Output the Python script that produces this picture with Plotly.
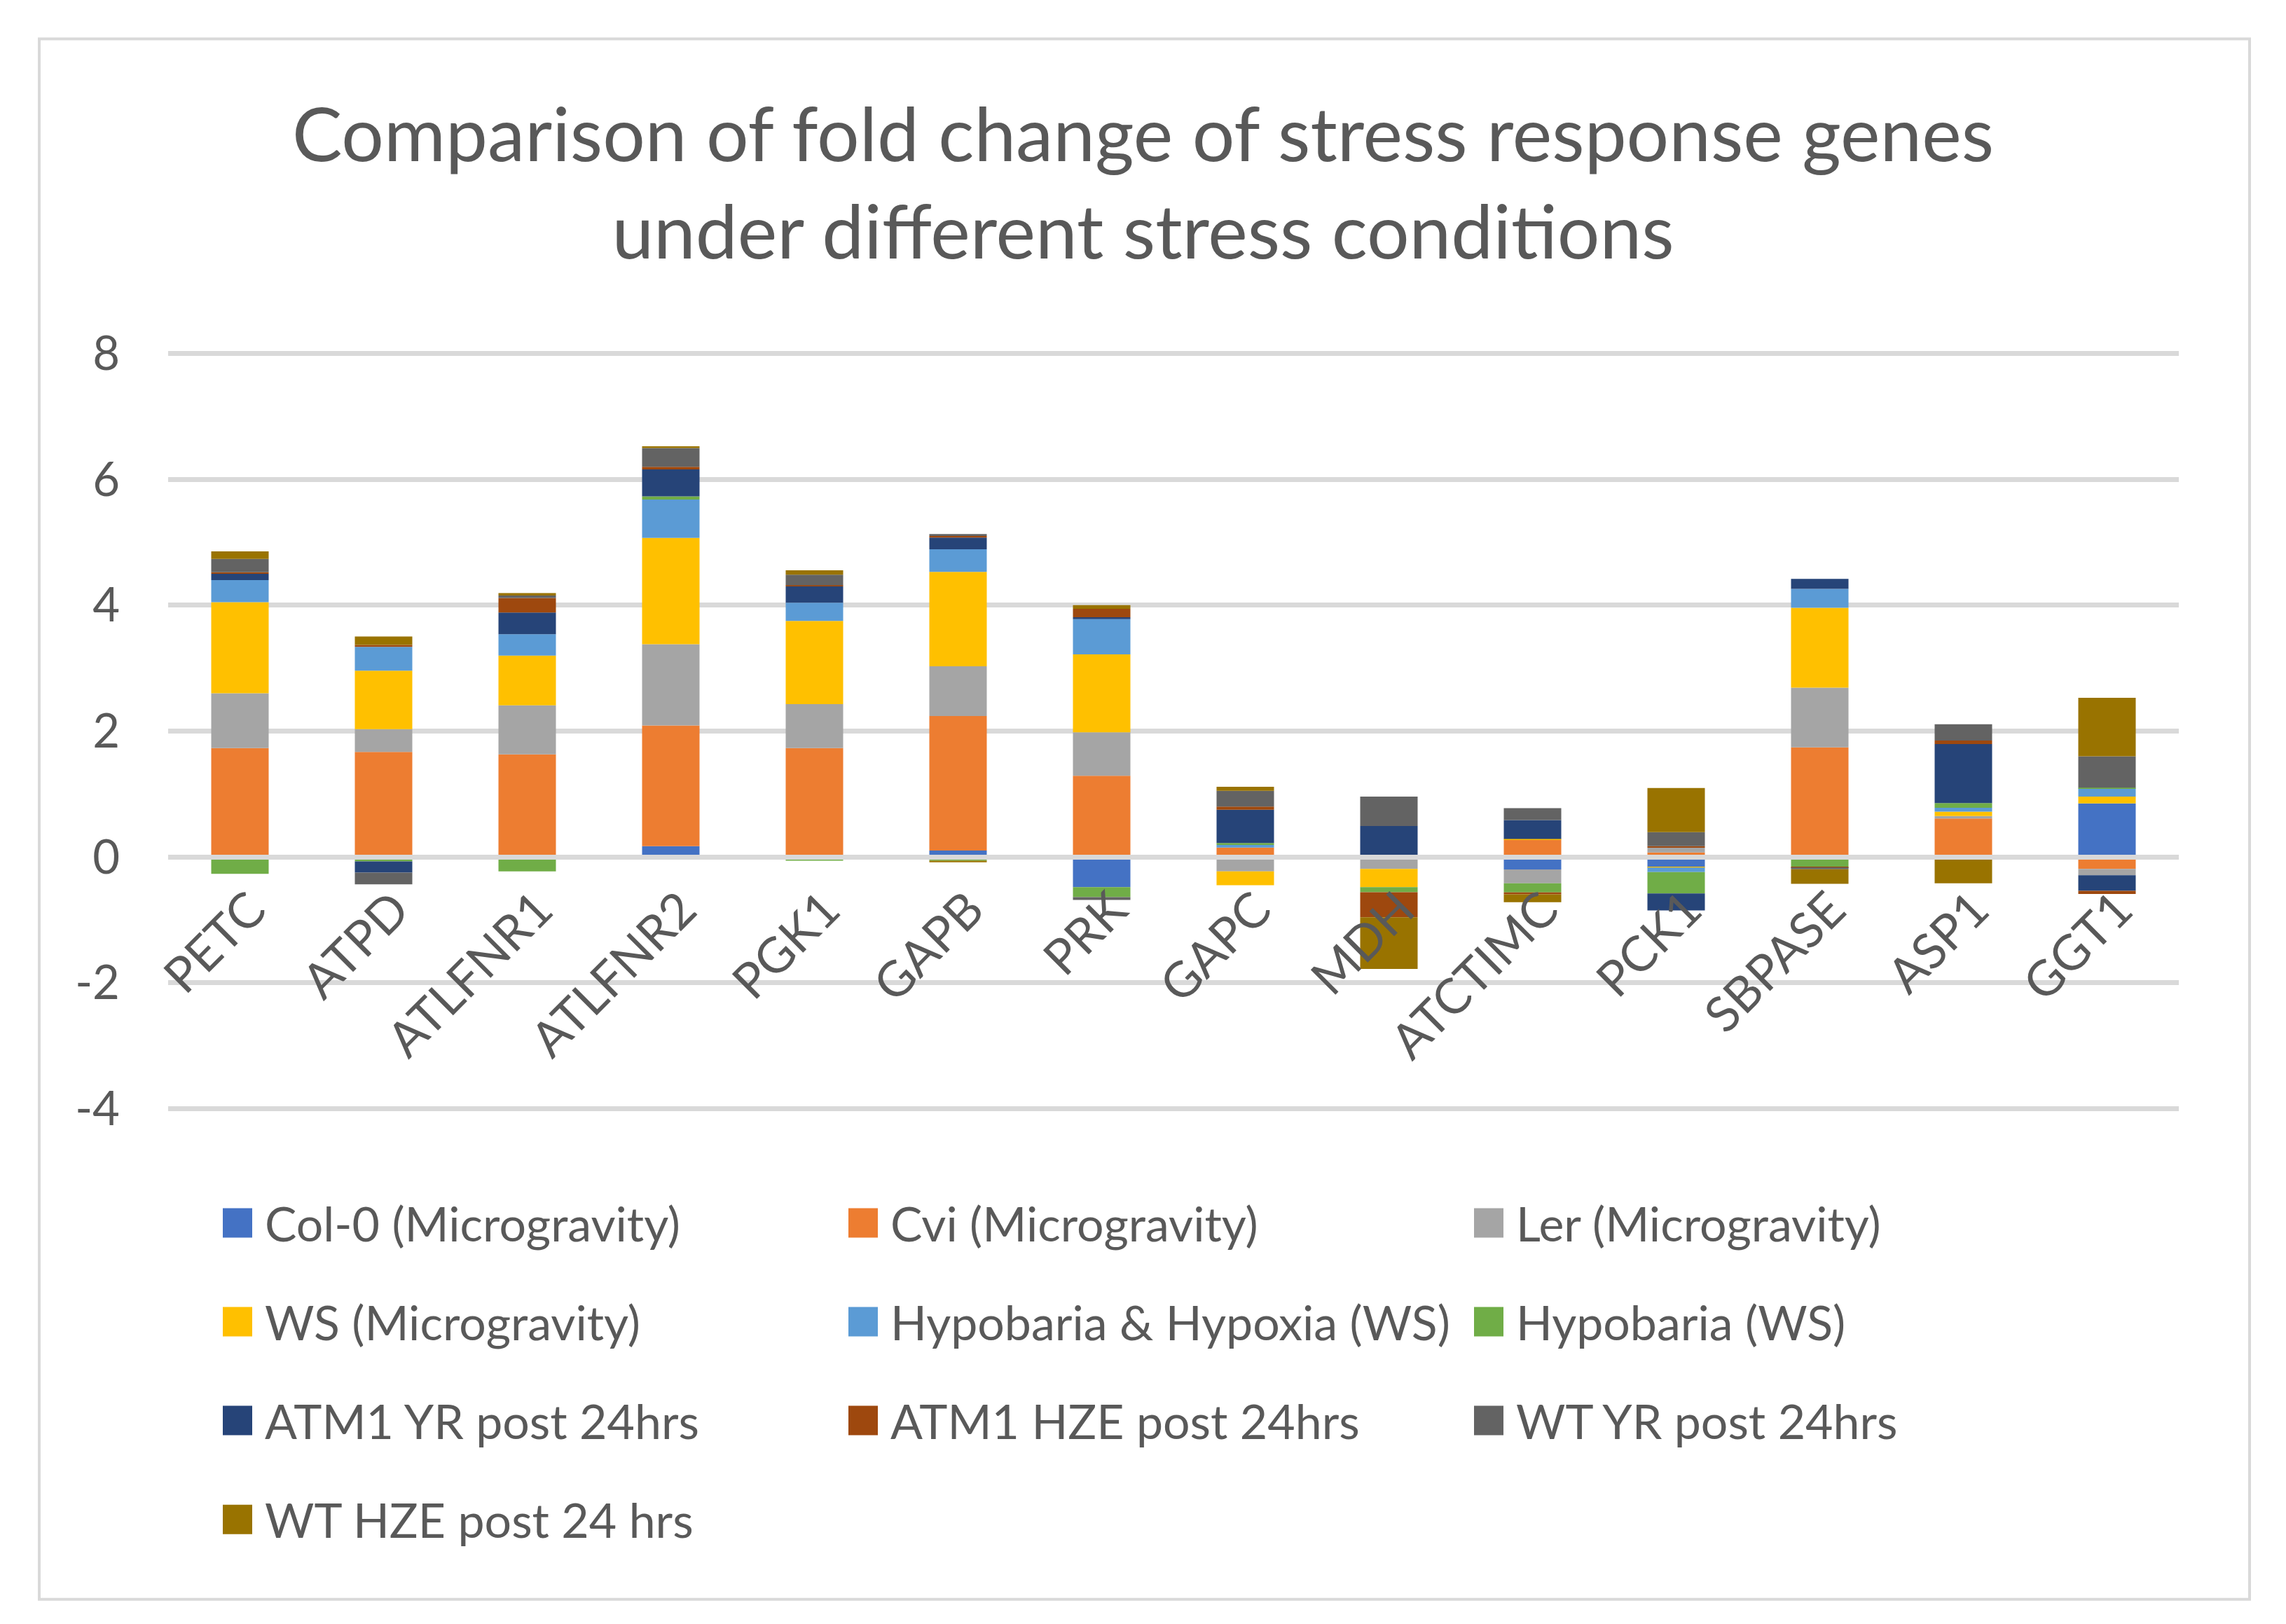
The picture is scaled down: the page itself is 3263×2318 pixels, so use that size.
import plotly.graph_objects as go

genes = ["PETC", "ATPD", "ATLFNR1", "ATLFNR2", "PGK1", "GAPB", "PRK", "GAPC",
         "MDH", "ATCTIMC", "PCK1", "SBPASE", "ASP1", "GGT1"]

series_names = ["Col-0 (Microgravity)", "Cvi (Microgravity)", "Ler (Microgravity)",
                "WS (Microgravity)", "Hypobaria & Hypoxia (WS)", "Hypobaria (WS)",
                "ATM1 YR post 24hrs", "ATM1 HZE post 24hrs", "WT YR post 24hrs",
                "WT HZE post 24 hrs"]

col0 = [0, 0, 0, 0.17, 0, 0.10, -0.48, 0, 0, -0.20, -0.16, 0, 0, 0.85]
cvi = [1.73, 1.67, 1.63, 1.92, 1.73, 2.14, 1.29, 0.15, 0, 0.27, 0.07, 1.74, 0.61, -0.19]
ler = [0.87, 0.36, 0.78, 1.29, 0.70, 0.79, 0.69, -0.23, -0.19, -0.22, 0.08, 0.95, 0.04, -0.10]
ws = [1.45, 0.93, 0.79, 1.69, 1.32, 1.50, 1.24, -0.22, -0.29, 0.015, -0.01, 1.27, 0.07, 0.11]
hypo_hypoxia = [0.35, 0.38, 0.34, 0.61, 0.29, 0.36, 0.56, 0.04, 0, 0, -0.07, 0.30, 0.06, 0.13]
hypobaria = [-0.27, -0.07, -0.23, 0.05, -0.06, -0.06, -0.16, 0.03, -0.08, -0.145, -0.34, -0.16, 0.075, 0.01]
atm1_yr = [0.10, -0.18, 0.345, 0.43, 0.26, 0.185, 0.03, 0.53, 0.49, 0.30, -0.27, 0.16, 0.94, -0.25]
atm1_hze = [0.026, 0.03, 0.23, 0.04, 0.02, 0.026, 0.134, 0.05, -0.40, -0.03, 0.02, -0.015, 0.056, -0.05]
wt_yr = [0.21, -0.185, 0.04, 0.30, 0.166, 0.03, -0.045, 0.25, 0.47, 0.19, 0.224, -0.022, 0.257, 0.50]
wt_hze = [0.12, 0.134, 0.04, 0.026, 0.07, -0.026, 0.058, 0.064, -0.82, -0.125, 0.70, -0.23, -0.42, 0.93]

series_values = [col0, cvi, ler, ws, hypo_hypoxia, hypobaria, atm1_yr, atm1_hze, wt_yr, wt_hze]
colors = ["#4472C4", "#ED7D31", "#A5A5A5", "#FFC000", "#5B9BD5", "#70AD47",
          "#264478", "#9E480E", "#636363", "#997300"]

y_ticks = [-4, -2, 0, 2, 4, 6, 8]
y_tick_labels = ["-4", "-2", "0", "2", "4", "6", "8"]
title_text = "Comparison of fold change of stress response genes<br>under different stress conditions"

FONT = "Lato"
TXT = "#595959"
W, H = 3263, 2318
Y_LO, Y_HI = -4.03, 8.03
PIX_TOP_GRID, PIX_BOT_GRID = 505, 1582          # pixel rows of the 8 and -4 gridlines
UNIT = (PIX_BOT_GRID - PIX_TOP_GRID) / 12.0
L, R = 240, 3110
T = PIX_TOP_GRID - (Y_HI - 8) * UNIT
B = PIX_BOT_GRID + (-4 - Y_LO) * UNIT
PW, PH = R - L, B - T


def px(x):
    return (x - L) / PW


def py(y):
    return (B - y) / PH


fig = go.Figure()
for name, vals, c in zip(series_names, series_values, colors):
    fig.add_trace(go.Bar(x=genes, y=vals, name=name, marker=dict(color=c, line=dict(width=0)),
                         showlegend=False))

# manual legend (large square keys like the original)
shapes = []
annotations = []
col_x = [318, 1211, 2104]
row_y = [1745, 1886, 2027, 2168]
sq = 42
for i, (name, c) in enumerate(zip(series_names, colors)):
    cx = col_x[i % 3]
    cy = row_y[i // 3]
    shapes.append(dict(type="rect", xref="paper", yref="paper",
                       x0=px(cx), x1=px(cx + sq), y0=py(cy + sq / 2), y1=py(cy - sq / 2),
                       fillcolor=c, line=dict(width=0)))
    annotations.append(dict(text=name, xref="paper", yref="paper", x=px(cx + sq + 16), y=py(cy),
                            xanchor="left", yanchor="middle", showarrow=False,
                            font=dict(family=FONT, size=68, color=TXT)))

# outer chart border
shapes.append(dict(type="rect", xref="paper", yref="paper", layer="below",
                   x0=px(56), x1=px(3211), y0=py(2282), y1=py(56),
                   line=dict(color="#D9D9D9", width=4), fillcolor="rgba(0,0,0,0)"))

fig.update_layout(
    width=W, height=H, autosize=False,
    margin=dict(l=L, r=W - R, t=T, b=H - B),
    paper_bgcolor="white", plot_bgcolor="white",
    barmode="relative", bargap=0.6,
    title=dict(text=title_text, x=0.5, xanchor="center", y=1 - 230 / H, yanchor="middle",
               font=dict(family=FONT, size=107, color=TXT)),
    shapes=shapes, annotations=annotations,
    font=dict(family=FONT, color=TXT),
)
fig.update_yaxes(range=[Y_LO, Y_HI], tickvals=y_ticks, ticktext=y_tick_labels,
                 showgrid=True, gridcolor="#D9D9D9",
                 gridwidth=6.5, zeroline=False, showline=False, ticks="",
                 tickfont=dict(family=FONT, size=67, color=TXT), ticklabelstandoff=68)
fig.update_xaxes(anchor="free", position=py(1223), showline=True, linecolor="#D9D9D9",
                 linewidth=7, layer="above traces", ticks="", tickangle=-45,
                 tickfont=dict(family=FONT, size=70, color=TXT), ticklabelstandoff=2,
                 ticklabelshift=16,
                 showgrid=False, zeroline=False, range=[-0.5, 13.5])

fig.write_html("out.html", config={"displayModeBar": False},
               post_script="document.body.style.margin='0';")
